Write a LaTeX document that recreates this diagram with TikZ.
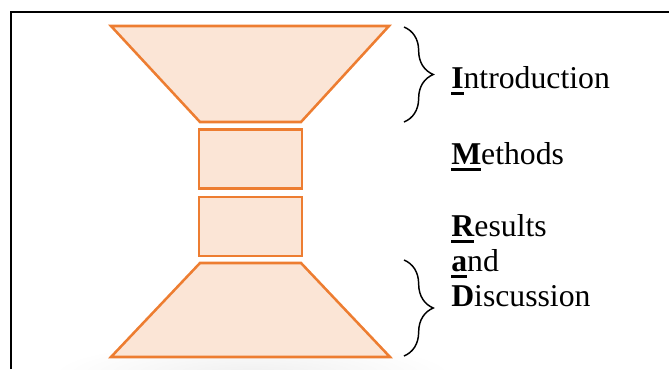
\documentclass[tikz,border=0pt]{standalone}
\usepackage{fontspec}
\setmainfont{Liberation Serif}
\usepackage{tikz}
\usetikzlibrary{positioning,calc,decorations.pathreplacing}
\definecolor{imradOrange}{RGB}{237,125,49}
\definecolor{imradPeach}{RGB}{251,229,214}
\newcommand\keyletter[1]{\setbox0\hbox{\textbf{#1}}\rlap{\rule[-5.6pt]{\wd0}{2.3pt}}\box0}

\begin{document}
\begin{tikzpicture}[x=0.75pt, y=-0.75pt,
  every node/.style={font=\fontsize{23.8}{26.25}\selectfont},
  part/.style={draw=imradOrange, fill=imradPeach, line width=1.9pt},
  label/.style={anchor=base west, inner sep=0pt, align=left},
  curly/.style={decorate, decoration={brace, amplitude=22pt, aspect=0.5}, line width=1.1pt}]
  \useasboundingbox (0,0) rectangle (669,369);
  % frame
  \draw[line width=1.9pt] (11,369) -- (11,12) -- (669,12);
  % reflection under the base
  \shade[inner color=black!6, outer color=white] (252,374) ellipse (200 and 34);
  % hourglass
  \coordinate (intTL) at (111,26);
  \coordinate (intTR) at (389,26);
  \coordinate (intBR) at (301,122);
  \coordinate (intBL) at (200,122);
  \draw[part] (intTL) -- (intTR) -- (intBR) -- (intBL) -- cycle;
  \node[part, minimum width=77pt, minimum height=44pt, inner sep=0pt]
    (meth) at (250.5,159) {};
  \node[part, minimum width=77pt, minimum height=44pt, inner sep=0pt]
    (res) at (250.5,226.5) {};
  \coordinate (disTL) at (200,263);
  \coordinate (disTR) at (301,263);
  \coordinate (disBR) at (390,357);
  \coordinate (disBL) at (111,357);
  \draw[part] (disTL) -- (disTR) -- (disBR) -- (disBL) -- cycle;
  % braces
  \coordinate (b1top) at (404,27);
  \coordinate (b1bot) at (404,122);
  \coordinate (b2top) at (404,260);
  \coordinate (b2bot) at (404,356);
  \draw[curly] (b1top) -- (b1bot);
  \draw[curly] (b2top) -- (b2bot);
  % Labels
  \node[label] (intro) at (451,88) {\keyletter{I}ntroduction};
  \node[label] (methods) at (451,164) {\keyletter{M}ethods};
  \node[label] (results) at (451,306) {\keyletter{R}esults\\\keyletter{a}nd\\\textbf{D}iscussion};
\end{tikzpicture}
\end{document}
